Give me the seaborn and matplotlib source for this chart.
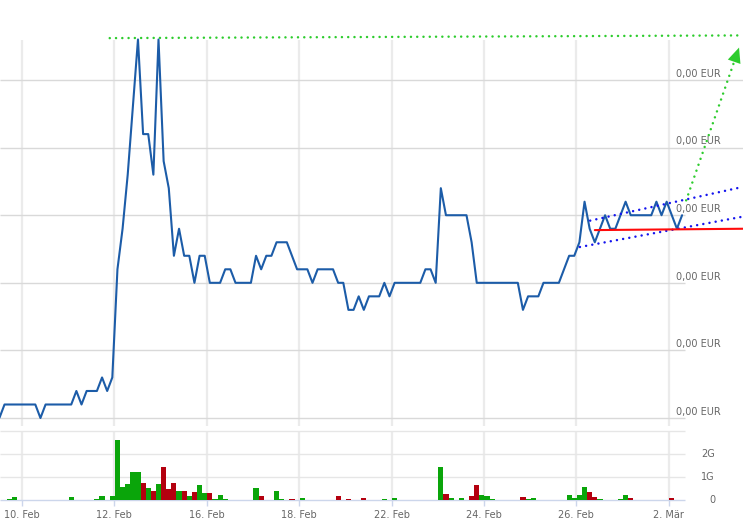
import numpy as np
import pandas as pd
import seaborn as sns
import matplotlib.pyplot as plt

# price per time slot (slot -1 .. 132), in units of 0.0001 EUR
price_units = [
    10, 11, 11, 11, 11, 11, 11, 11, 10, 11, 11, 11, 11, 11, 11,
    12, 11, 12, 12, 12, 13, 12, 13,
    21, 24, 28, 33, 38, 31, 31, 28, 38, 29, 27, 22, 24, 22, 22, 20, 22, 22, 20,
    20, 20, 21, 21, 20, 20, 20, 20, 22, 21, 22, 22, 23, 23, 23, 22, 21, 21, 21, 20,
    21, 21, 21, 21, 20, 20, 18, 18, 19, 18, 19, 19, 19, 20, 19, 20, 20, 20, 20, 20, 20,
    21, 21, 20, 27, 25, 25, 25, 25, 25, 23, 20, 20, 20, 20, 20, 20, 20, 20, 20,
    18, 19, 19, 19, 20, 20, 20, 20, 21, 22, 22, 23, 26, 24, 23, 24, 25, 24, 24, 25,
    26, 25, 25, 25, 25, 25, 26, 25, 26, 25, 24, 25,
]
slots = np.arange(-1, len(price_units) - 1)

# volume bars (slot, volume in G, up/down)
vol_slot = [1, 2, 13, 18, 19, 21, 22, 23, 24, 25, 26, 27, 28, 29, 30, 31, 32, 33, 34, 35,
            36, 37, 38, 39, 40, 41, 42, 43, 49, 50, 53, 54, 56, 58, 65, 67, 70, 74, 76,
            85, 86, 87, 89, 91, 92, 93, 94, 95, 101, 102, 103, 110, 111, 112, 113, 114,
            115, 116, 120, 121, 122, 130]
vol_g = [0.04, 0.13, 0.13, 0.04, 0.18, 0.18, 2.63, 0.57, 0.70, 1.23, 1.23, 0.74, 0.53, 0.39,
         0.70, 1.45, 0.48, 0.74, 0.39, 0.39, 0.18, 0.35, 0.66, 0.31, 0.31, 0.04, 0.22, 0.04,
         0.53, 0.18, 0.39, 0.04, 0.04, 0.09, 0.18, 0.04, 0.09, 0.04, 0.09,
         1.45, 0.26, 0.09, 0.09, 0.18, 0.66, 0.22, 0.18, 0.04, 0.13, 0.04, 0.09, 0.22, 0.09,
         0.22, 0.57, 0.35, 0.13, 0.04, 0.04, 0.22, 0.09, 0.09]
vol_dir = ['up', 'up', 'up', 'up', 'up', 'up', 'up', 'up', 'up', 'up', 'up', 'down', 'up', 'down',
           'up', 'down', 'down', 'down', 'up', 'down', 'up', 'down', 'up', 'up', 'down', 'up',
           'up', 'up', 'up', 'down', 'up', 'up', 'down', 'up', 'down', 'down', 'down', 'up', 'up',
           'up', 'down', 'up', 'up', 'down', 'down', 'up', 'up', 'up', 'down', 'up', 'up', 'up',
           'up', 'up', 'up', 'down', 'down', 'up', 'up', 'up', 'down', 'down']

tick_pos = [3.4, 21.4, 39.4, 57.4, 75.4, 93.4, 111.4, 129.4]
tick_labels = ['10. Feb', '12. Feb', '16. Feb', '18. Feb', '22. Feb', '24. Feb', '26. Feb', '2. Mär']

price_grid = [10, 15, 20, 25, 30, 35]
vol_grid = [0, 1, 2, 3]
vol_grid_labels = ['0', '1G', '2G', '']

# hand-drawn analysis lines (slot, price units)
res_x, res_y = [20.5, 143.9], [38.1, 38.3]
arrow_x, arrow_y = [132.8, 143.1], [26.1, 37.4]
chan_hi_x, chan_hi_y = [114.1, 143.9], [24.6, 27.1]
chan_lo_x, chan_lo_y = [112.1, 143.9], [22.65, 24.9]
support_x, support_y = [115.0, 143.9], [23.9, 24.0]

EUR = 1e-4
price = np.array(price_units) * EUR

sns.set_theme(style='white')
plt.rcParams['font.family'] = ['DejaVu Sans']

fig = plt.figure(figsize=(7.43, 5.27), dpi=100)
ax = fig.add_axes([0, 101 / 527, 1, 396 / 527])
axv = fig.add_axes([0, 27 / 527, 1, 69 / 527])

xmin, xmax = -0.88, 143.87
grid_end = 132.6
txt = '#666666'
green = '#2dcc2d'
blue = '#1414ee'

# ---- price panel
ax.set_xlim(xmin, xmax)
ax.set_ylim(9.41 * EUR, 38.7 * EUR)
ax.vlines(tick_pos, 9.41 * EUR, 37.96 * EUR, colors='#ebebeb', lw=1.6, zorder=0)
for g in price_grid:
    right = xmax if g >= 30 else grid_end
    ax.hlines(g * EUR, xmin, right, colors='#d9d9d9', lw=1, zorder=1)
    ax.annotate(f'{g * EUR:.2f} EUR'.replace('.', ','), xy=(676 / 743, g * EUR),
                xycoords=('axes fraction', 'data'), xytext=(0, 4.5),
                textcoords='offset points', fontsize=7, color=txt, va='center', ha='left')

sns.lineplot(x=slots, y=price, ax=ax, color='#1c5ca8', linewidth=1.5, zorder=3)

dots = (0, (0.01, 2.5))
ax.plot(res_x, np.array(res_y) * EUR, color=green, lw=1.8, ls=dots, dash_capstyle='round', zorder=4)
ax.plot(arrow_x, np.array(arrow_y) * EUR, color=green, lw=1.8, ls=dots, dash_capstyle='round', zorder=4)
tip = (arrow_x[1], arrow_y[1] * EUR)
back = (arrow_x[1] - 0.1 * (arrow_x[1] - arrow_x[0]), (arrow_y[1] - 0.1 * (arrow_y[1] - arrow_y[0])) * EUR)
ax.annotate('', xy=tip, xytext=back,
            arrowprops=dict(arrowstyle='-|>,head_length=0.9,head_width=0.4', color=green,
                            mutation_scale=12, shrinkA=0, shrinkB=0, lw=0), zorder=5)
ax.plot(chan_hi_x, np.array(chan_hi_y) * EUR, color=blue, lw=1.8, ls=dots, dash_capstyle='round', zorder=4)
ax.plot(chan_lo_x, np.array(chan_lo_y) * EUR, color=blue, lw=1.8, ls=dots, dash_capstyle='round', zorder=4)
ax.plot(support_x, np.array(support_y) * EUR, color='#ff0a0a', lw=1.5, zorder=4)

ax.set_xticks([])
ax.set_yticks([])
ax.set_xlabel('')
ax.set_ylabel('')
for s in ax.spines.values():
    s.set_visible(False)

# ---- volume panel
vol = pd.DataFrame({'slot': vol_slot, 'vol': vol_g, 'dir': vol_dir})
axv.vlines(tick_pos, 0, 3, colors='#ebebeb', lw=1.6, zorder=0)
for v, lab in zip(vol_grid, vol_grid_labels):
    col = '#ccd6eb' if v == 0 else '#e6e6e6'
    axv.hlines(v, xmin, grid_end, colors=col, lw=1, zorder=1, clip_on=False)
    if lab:
        axv.annotate(lab, xy=(715 / 743, v), xycoords=('axes fraction', 'data'),
                     ha='right', va='center', fontsize=7, color=txt)

sns.barplot(data=vol, x='slot', y='vol', hue='dir', palette={'up': '#0aa50a', 'down': '#b4000f'},
            native_scale=True, width=1.0, dodge=False, errorbar=None, saturation=1,
            legend=False, ax=axv, zorder=2, linewidth=0, edgecolor='none')

axv.set_xlim(xmin, xmax)
axv.set_ylim(0, 3)
axv.set_xticks(tick_pos, tick_labels)
axv.set_yticks([])
axv.tick_params(axis='x', bottom=True, length=4.3, width=1, color='#ccd6eb',
                labelsize=7, labelcolor=txt, pad=3)
axv.set_xlabel('')
axv.set_ylabel('')
for s in axv.spines.values():
    s.set_visible(False)

fig.savefig('out.png', dpi=100)
